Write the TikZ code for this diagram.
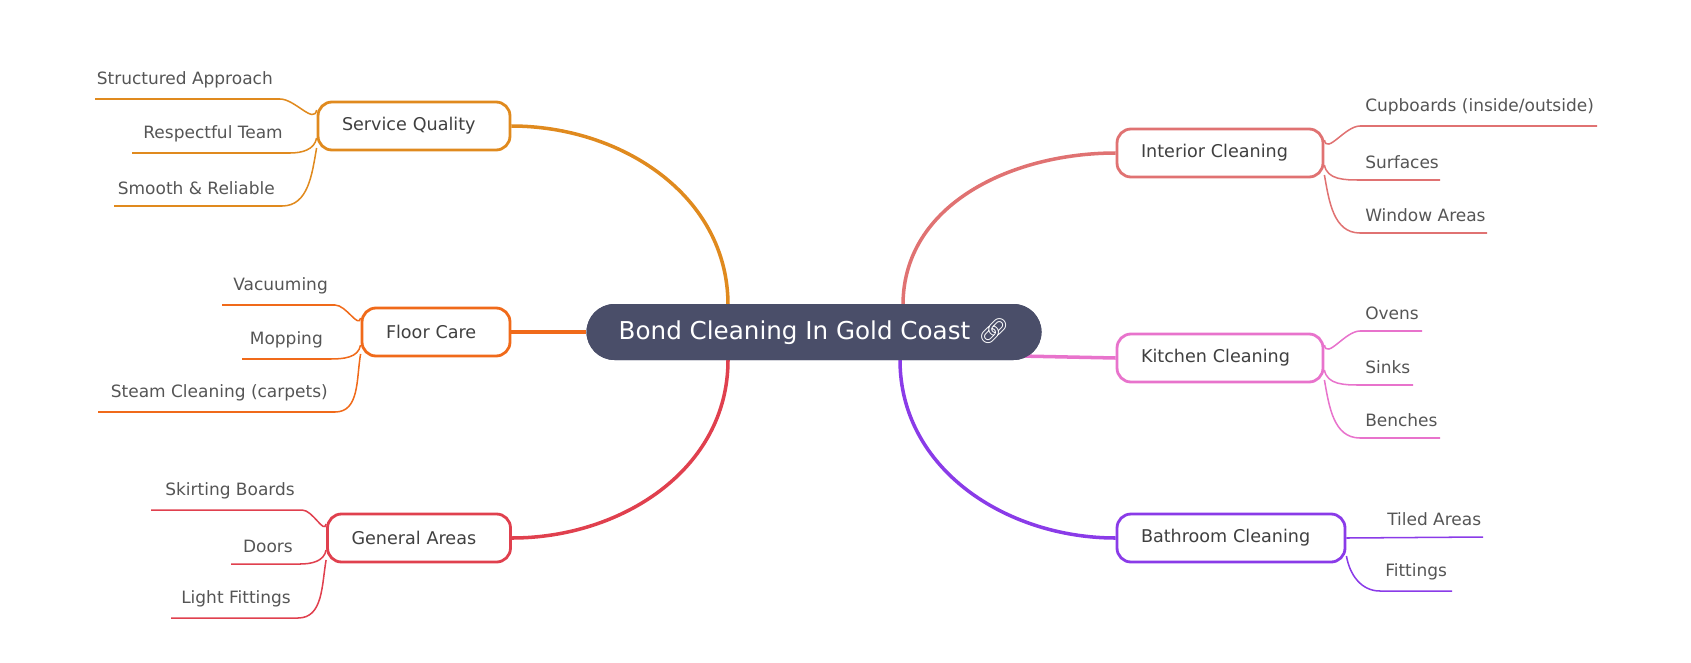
\documentclass[tikz,border=0pt]{standalone}
\usepackage{fontspec}
\setmainfont{DejaVu Sans}
\newfontfamily\emojifont{Noto Emoji}
\definecolor{cent}{HTML}{4A4E69}
\definecolor{cSQ}{HTML}{E08A1E}
\definecolor{cFC}{HTML}{F06A1A}
\definecolor{cGA}{HTML}{E0404E}
\definecolor{cIC}{HTML}{E07272}
\definecolor{cKC}{HTML}{E873CC}
\definecolor{cBC}{HTML}{8A3BE8}
\definecolor{leaftext}{HTML}{555555}
\begin{document}
\begin{tikzpicture}[x=0.03cm,y=-0.03cm]
\tikzstyle{centre} = [fill=cent, text=white, rounded corners=0.84cm, minimum height=1.68cm, minimum width=13.65cm, font=\fontsize{21}{24}\selectfont]
\tikzstyle{branch} = [draw, line width=2.4pt, fill=white, rounded corners=0.42cm, minimum height=1.44cm, inner xsep=0.72cm, align=left, text=black!75, font=\fontsize{15}{17}\selectfont]
\tikzstyle{leafL} = [anchor=south east, inner xsep=0pt, inner ysep=9pt, text=leaftext, font=\fontsize{14.5}{16}\selectfont]
\tikzstyle{leafR} = [anchor=south west, inner xsep=0pt, inner ysep=9pt, text=leaftext, font=\fontsize{14.5}{16}\selectfont]
\tikzstyle{link} = [line width=3pt]
\tikzstyle{twig} = [line width=1.3pt]

\useasboundingbox (0,0) rectangle (1691,662);

% centre and branches
\node(BC)[centre] at (814,332){Bond Cleaning In Gold Coast {\emojifont 🔗}};
\node(SQ)[branch, draw=cSQ, text width=4.32cm] at (414,126){Service Quality};
\node(FC)[branch, draw=cFC, text width=3.0cm] at (436,332){Floor Care};
\node(GA)[branch, draw=cGA, text width=4.05cm] at (419,538){General Areas};
\node(IC)[branch, draw=cIC, text width=4.74cm] at (1220,153){Interior Cleaning};
\node(KC)[branch, draw=cKC, text width=4.74cm] at (1220,358){Kitchen Cleaning};
\node(BA)[branch, draw=cBC, text width=5.4cm] at (1231,538){Bathroom Cleaning};

\coordinate(sqend) at (728,305);
\coordinate(gaend) at (728,360);
\coordinate(icend) at (903,305);
\coordinate(kcend) at (1020,356);
\coordinate(baend) at (900,360);
\draw[link, cSQ] (SQ.east) to[out=0,in=90] (sqend);
\draw[link, cFC] (FC.east) -- (BC.west);
\draw[link, cGA] (GA.east) to[out=0,in=-90] (gaend);
\draw[link, cIC] (IC.west) to[out=180,in=90] (icend);
\draw[link, cKC] (KC.west) -- (kcend);
\draw[link, cBC] (BA.west) to[out=180,in=-90] (baend);
\node[centre] at (BC){Bond Cleaning In Gold Coast {\emojifont 🔗}};

% left leaves
\foreach \name/\txt/\xs/\xe/\yl/\col/\pnode/\py in {
  s1/Structured Approach/95/290/99/cSQ/SQ/110,
  s2/Respectful Team/132/300/153/cSQ/SQ/138,
  s3/Smooth \& Reliable/114/292/206/cSQ/SQ/148,
  f1/Vacuuming/222/345/305/cFC/FC/318,
  f2/Mopping/242/340/359/cFC/FC/345,
  f3/Steam Cleaning (carpets)/98/345/412/cFC/FC/354,
  g1/Skirting Boards/151/312/510/cGA/GA/524,
  g2/Doors/231/310/564/cGA/GA/550,
  g3/Light Fittings/171/308/618/cGA/GA/560}{
  \node(\name)[leafL] at (\xe-17,\yl){\txt};
  \coordinate(t) at (0,\py);
  \draw[twig, \col] (\xs,\yl) -- (\xe-10,\yl) to[out=0,in=-100] (\pnode.west |- t);
}

% right leaves
\foreach \name/\txt/\xs/\xe/\yl/\col/\pnode/\py in {
  i1/{Cupboards (inside/outside)}/1350/1597/126/cIC/IC/140,
  i2/Surfaces/1350/1440/180/cIC/IC/165,
  i3/Window Areas/1350/1487/233/cIC/IC/175,
  k1/Ovens/1350/1422/331/cKC/KC/345,
  k2/Sinks/1350/1413/385/cKC/KC/370,
  k3/Benches/1350/1440/438/cKC/KC/380,
  b2/Fittings/1370/1452/591/cBC/BA/556}{
  \node(\name)[leafR] at (\xs+15,\yl){\txt};
  \coordinate(t) at (0,\py);
  \draw[twig, \col] (\xe,\yl) -- (\xs+10,\yl) to[out=180,in=-80] (\pnode.east |- t);
}
\node(b1)[leafR] at (1387,537){Tiled Areas};
\draw[twig, cBC] (BA.east) -- (1483,537);
\end{tikzpicture}
\end{document}
